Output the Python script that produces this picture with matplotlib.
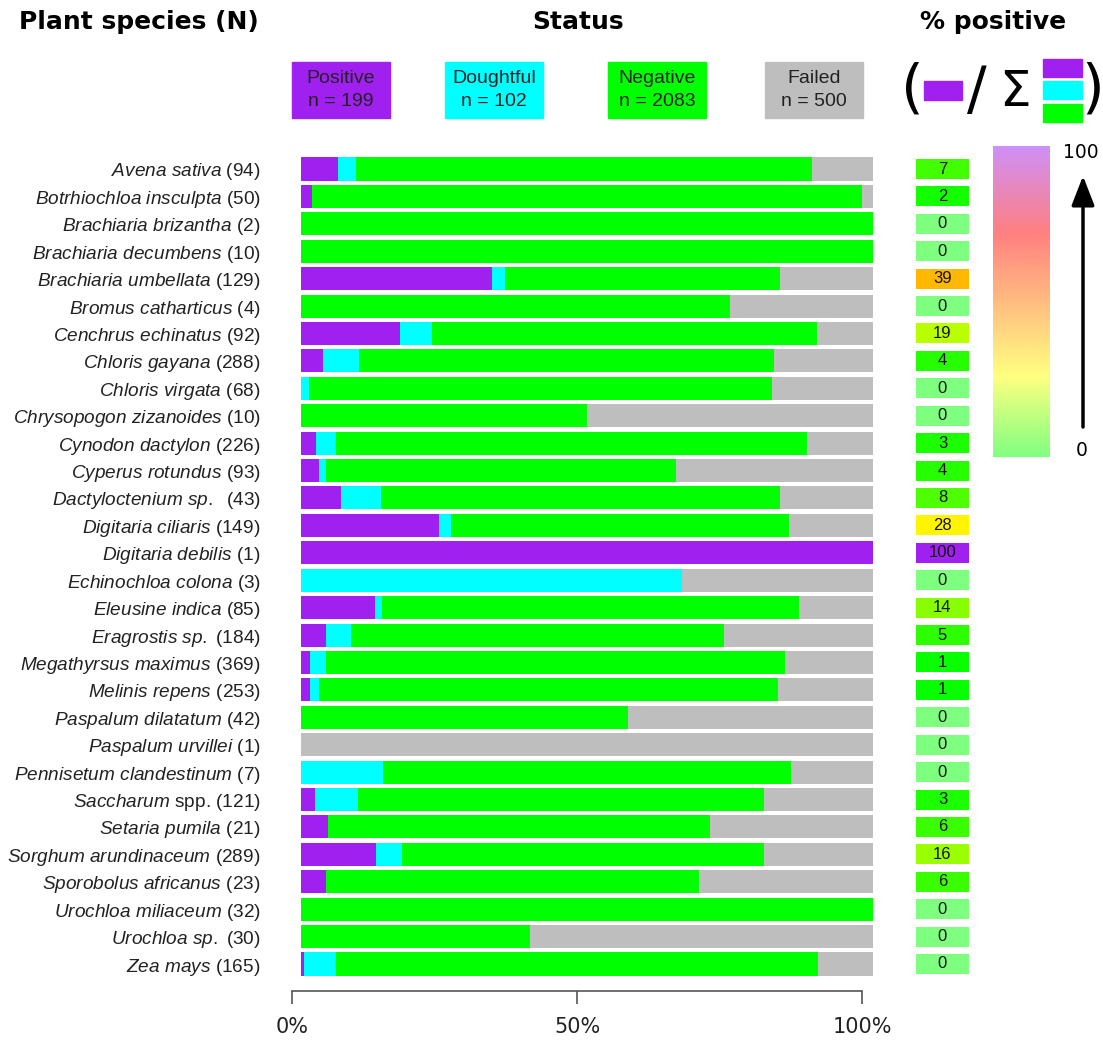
import numpy as np
import matplotlib
matplotlib.use("Agg")
import matplotlib.pyplot as plt
from matplotlib.colors import LinearSegmentedColormap
from matplotlib.patches import Rectangle

plt.rcParams['font.family'] = 'Liberation Sans'
plt.rcParams['mathtext.fontset'] = 'custom'
plt.rcParams['mathtext.it'] = 'Liberation Sans:italic'
plt.rcParams['mathtext.rm'] = 'Liberation Sans'

# Dados: espécies e contagens por status
nomes = ['Avena sativa', 'Botrhiochloa insculpta', 'Brachiaria brizantha', 'Brachiaria decumbens',
         'Brachiaria umbellata', 'Bromus catharticus', 'Cenchrus echinatus', 'Chloris gayana',
         'Chloris virgata', 'Chrysopogon zizanoides', 'Cynodon dactylon', 'Cyperus rotundus',
         'Dactyloctenium sp. ', 'Digitaria ciliaris', 'Digitaria debilis', 'Echinochloa colona',
         'Eleusine indica', 'Eragrostis sp.', 'Megathyrsus maximus', 'Melinis repens',
         'Paspalum dilatatum', 'Paspalum urvillei', 'Pennisetum clandestinum', 'Saccharum',
         'Setaria pumila', 'Sorghum arundinaceum', 'Sporobolus africanus', 'Urochloa miliaceum',
         'Urochloa sp.', 'Zea mays']
sufixos = [''] * 23 + [' spp.'] + [''] * 6

positivo = [6, 1, 0, 0, 43, 0, 16, 11, 0, 0, 6, 3, 3, 36, 1, 0, 11, 8, 6, 4, 0, 0, 0, 3, 1, 38, 1, 0, 0, 1]
duvidoso = [3, 0, 0, 0, 3, 0, 5, 18, 1, 0, 8, 1, 3, 3, 0, 2, 1, 8, 10, 4, 0, 0, 1, 9, 0, 13, 0, 0, 0, 9]
negativo = [75, 48, 2, 10, 62, 3, 62, 209, 55, 5, 186, 57, 30, 88, 0, 0, 62, 120, 296, 203, 24, 0, 5, 86,
            14, 183, 15, 32, 12, 139]
falhou = [10, 1, 0, 0, 21, 1, 9, 50, 12, 5, 26, 32, 7, 22, 0, 1, 11, 48, 57, 42, 18, 1, 1, 23, 6, 55, 7, 0,
          18, 16]

status = ['Positive', 'Doughtful', 'Negative', 'Failed']
cores = ['#A020F0', '#00FFFF', '#00FF00', '#BEBEBE']

W, H = 1103, 1040
fig = plt.figure(figsize=(W / 100, H / 100), dpi=100)


def caixa(x0, y0, x1, y1):
    # pixels (origem no topo) -> fração da figura
    return [x0 / W, 1 - y1 / H, (x1 - x0) / W, (y1 - y0) / H]


def px(x, y):
    return (x / W, 1 - y / H)


n = len(nomes)
totais = np.array(positivo) + np.array(duvidoso) + np.array(negativo) + np.array(falhou)
passo = (964 - 169) / (n - 1)
topo = 169 - passo / 2
base = 964 + passo / 2
y = np.arange(n)

# Barras empilhadas
ax = fig.add_axes(caixa(301, topo, 873, base))
esq = np.zeros(n)
for vals, cor in zip([positivo, duvidoso, negativo, falhou], cores):
    frac = np.array(vals) / totais
    ax.barh(y, frac, left=esq, height=0.84, color=cor, edgecolor='none')
    esq += frac
ax.set_xlim(0, 1)
ax.set_ylim(n - 0.5, -0.5)
rotulos = []
for nome, suf, N in zip(nomes, sufixos, totais):
    rotulos.append('$\\mathit{' + nome.replace(' ', '\\ ') + '}$' + suf + ' (%d)' % N)
ax.set_yticks(y, rotulos, fontsize=13.7, color='#222222')
ax.tick_params(axis='y', length=0, pad=29)
ax.set_xticks([])
for s in ax.spines.values():
    s.set_visible(False)

# Eixo de porcentagem embaixo
ax_x = fig.add_axes(caixa(292, 990, 862, 991))
ax_x.set_xlim(0, 1)
ax_x.set_yticks([])
ax_x.set_xticks([0, 0.5, 1], ['0%', '50%', '100%'], fontsize=15, family='DejaVu Sans', color='#222222')
ax_x.tick_params(axis='x', length=9, width=1.2, color='#555555', pad=10)
for lado in ['top', 'left', 'right']:
    ax_x.spines[lado].set_visible(False)
ax_x.spines['bottom'].set_color('#555555')
ax_x.spines['bottom'].set_linewidth(1.2)
ax_x.patch.set_visible(False)

# Mapa de cores do % positivo
cmap = LinearSegmentedColormap.from_list('pos', [(0, '#00FF00'), (0.26, '#FFFF00'), (0.72, '#FF0000'),
                                                 (1, '#A020F0')])

ax_p = fig.add_axes(caixa(916, topo, 969, base))
ax_p.set_xlim(0, 1)
ax_p.set_ylim(n - 0.5, -0.5)
ax_p.axis('off')
for i in range(n):
    testados = positivo[i] + duvidoso[i] + negativo[i]
    pct = positivo[i] * 100 // testados if testados > 0 else 0
    ax_p.barh(i, 1, height=0.73, color=cmap(pct / 100), alpha=1 if pct > 0 else 0.5, edgecolor='none')
    ax_p.text(0.5, i, str(pct), ha='center', va='center', fontsize=12, color='#111111')

# Barra de cores
ax_cb = fig.add_axes(caixa(993, 146, 1050, 457))
ax_cb.imshow(np.linspace(1, 0, 256)[:, None], aspect='auto', cmap=cmap, alpha=0.5)
ax_cb.axis('off')
fig.text(*px(1081, 153), '100', ha='center', va='center', fontsize=13.5, family='DejaVu Sans')
fig.text(*px(1082, 450), '0', ha='center', va='center', fontsize=13.5, family='DejaVu Sans')
ax_cb.annotate('', xy=px(1083, 176), xytext=px(1083, 427), xycoords='figure fraction',
               textcoords='figure fraction',
               arrowprops=dict(arrowstyle='-|>,head_length=0.9,head_width=0.35', lw=2.5, color='black',
                               mutation_scale=20, shrinkA=0, shrinkB=0))

# Títulos
fig.text(*px(139, 22), 'Plant species (N)', ha='center', va='center', fontsize=18, weight='bold',
         family='DejaVu Sans')
fig.text(*px(578, 22), 'Status', ha='center', va='center', fontsize=18, weight='bold', family='DejaVu Sans')
fig.text(*px(993, 22), '% positive', ha='center', va='center', fontsize=18, weight='bold',
         family='DejaVu Sans')

# Legenda dos status
soma = [sum(positivo), sum(duvidoso), sum(negativo), sum(falhou)]
x_leg = [292, 445, 608, 765]
for nome, cor, x0, N in zip(status, cores, x_leg, soma):
    fig.add_artist(Rectangle(px(x0, 118), 98 / W, 56 / H, transform=fig.transFigure, color=cor))
    fig.text(*px(x0 + 49, 90), nome + '\nn = %d' % N, ha='center', va='center', fontsize=14,
             color='#222222', linespacing=1.5)

# Fórmula do % positivo
fig.text(*px(912, 90), '(', ha='center', va='center', fontsize=42, family='DejaVu Sans')
fig.add_artist(Rectangle(px(924, 100), 38 / W, 19 / H, transform=fig.transFigure, color=cores[0]))
fig.text(*px(977, 92), '/', ha='center', va='center', fontsize=42, family='DejaVu Sans')
fig.text(*px(1015, 92), 'Σ', ha='center', va='center', fontsize=36, family='DejaVu Sans')
for cor, (y0, y1) in zip(cores[:3], [(59, 77), (81, 99), (104, 122)]):
    fig.add_artist(Rectangle(px(1043, y1), 39 / W, (y1 - y0) / H, transform=fig.transFigure, color=cor))
fig.text(*px(1093, 90), ')', ha='center', va='center', fontsize=42, family='DejaVu Sans')

fig.savefig('out.png', dpi=100)
